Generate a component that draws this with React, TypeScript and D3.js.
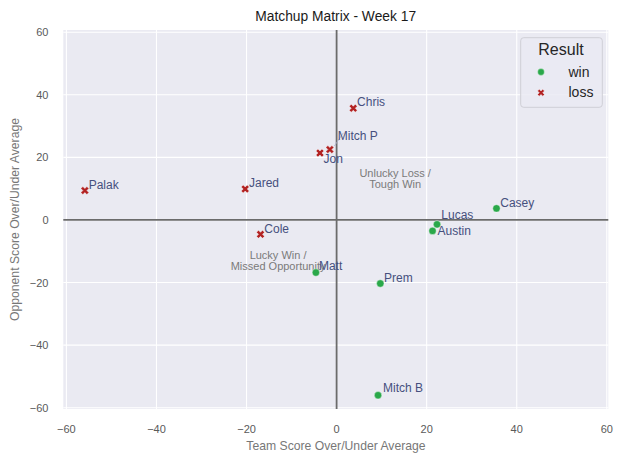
import React from 'react';
import * as d3 from 'd3';

// Week 17 results: points over/under average for each team and its opponent
const players = ['Palak', 'Jared', 'Cole', 'Chris', 'Mitch P', 'Jon', 'Casey', 'Lucas', 'Austin', 'Matt', 'Prem', 'Mitch B'];
const teamDiff = [-55.9, -20.3, -16.9, 3.7, -1.5, -3.7, 35.5, 22.3, 21.3, -4.6, 9.7, 9.2];
const oppDiff = [9.4, 9.9, -4.6, 35.7, 22.5, 21.4, 3.7, -1.4, -3.5, -16.8, -20.3, -56.0];
const results = ['loss', 'loss', 'loss', 'loss', 'loss', 'loss', 'win', 'win', 'win', 'win', 'win', 'win'];

const xTicks = [-60, -40, -20, 0, 20, 40, 60];
const yTicks = [-60, -40, -20, 0, 20, 40, 60];
const resultKeys = ['win', 'loss'];

// label placement after de-overlapping (pixel offset of text start from the point)
const labelOffsets: Record<string, [number, number]> = {
  'Mitch P': [8, -9.7],
  Jon: [3.6, 9.7],
  Lucas: [4.3, -5],
  Austin: [5, 4.3],
  'Mitch B': [5, -3],
  Matt: [3, -2.7],
};

const W = 623;
const H = 464;
const FONT = '"Liberation Sans", Arial, sans-serif';
const colors: Record<string, string> = { win: '#2aa84a', loss: '#b22222' };
const labelColor = '#46507e';

const App = () => {
  const x = d3.scaleLinear().domain([-60.69, 60.33]).range([63.3, 608.3]);
  const y = d3.scaleLinear().domain([60.7, -60.4]).range([30, 409]);
  const [x0, x1] = x.range();
  const [y0, y1] = y.range();

  const cross = d3.symbol().type(d3.symbolCross).size(40)();
  const crossSmall = d3.symbol().type(d3.symbolCross).size(30)();

  const data = players.map((name, i) => ({ name, tx: teamDiff[i], oy: oppDiff[i], res: results[i] }));

  const marker = (res: string, cx: number, cy: number, small = false, key?: string) =>
    res === 'win' ? (
      <circle key={key} cx={cx} cy={cy} r={small ? 3.4 : 3.7} fill={colors.win} stroke="#fff" strokeWidth={0.4} />
    ) : (
      <path key={key} d={small ? crossSmall : cross} transform={`translate(${cx},${cy}) rotate(45)`}
        fill={colors.loss} stroke="#fff" strokeWidth={0.4} />
    );

  const mp = data.find(d => d.name === 'Mitch P')!;
  const mpOff = labelOffsets['Mitch P'];

  return (
    <svg width={W} height={H} style={{ position: 'absolute', left: 0, top: 0, background: '#fff' }} fontFamily={FONT}>
      <text x={335.7} y={20.5} textAnchor="middle" fontSize={13.8} fill="#1a1a1a">Matchup Matrix - Week 17</text>

      <rect x={x0} y={y0} width={x1 - x0} height={y1 - y0} fill="#eaeaf2" />
      {xTicks.map(t => (
        <line key={'gx' + t} x1={x(t)} x2={x(t)} y1={y0} y2={y1} stroke="#fff" strokeWidth={1.1} />
      ))}
      {yTicks.map(t => (
        <line key={'gy' + t} x1={x0} x2={x1} y1={y(t)} y2={y(t)} stroke="#fff" strokeWidth={1.1} />
      ))}

      {/* quadrant dividers */}
      <line x1={x(0)} x2={x(0)} y1={y0} y2={y1} stroke="#6b6b6b" strokeWidth={1.8} />
      <line x1={x0} x2={x1} y1={y(0)} y2={y(0)} stroke="#6b6b6b" strokeWidth={1.8} />

      <text x={x(13)} y={y(13)} textAnchor="middle" fontSize={11} fill="#7a7a7a">
        <tspan x={x(13)} dy={-2}>Unlucky Loss /</tspan>
        <tspan x={x(13)} dy={10.8}>Tough Win</tspan>
      </text>
      <text x={x(-13)} y={y(-13)} textAnchor="middle" fontSize={11} fill="#7a7a7a">
        <tspan x={x(-13)} dy={-2}>Lucky Win /</tspan>
        <tspan x={x(-13)} dy={11.5}>Missed Opportunity</tspan>
      </text>

      {xTicks.map(t => (
        <text key={'tx' + t} x={x(t)} y={433} textAnchor="middle" fontSize={11} fill="#5a5a5a">
          {t < 0 ? '\u2212' + Math.abs(t) : t}
        </text>
      ))}
      {yTicks.map(t => (
        <text key={'ty' + t} x={48.5} y={y(t) + 4} textAnchor="end" fontSize={11} fill="#5a5a5a">
          {t < 0 ? '\u2212' + Math.abs(t) : t}
        </text>
      ))}
      <text x={336} y={450} textAnchor="middle" fontSize={12.2} fill="#777">Team Score Over/Under Average</text>
      <text transform={`translate(18.5,${(y0 + y1) / 2}) rotate(-90)`} textAnchor="middle" fontSize={12.2} fill="#777">
        Opponent Score Over/Under Average
      </text>

      {/* connector for the displaced label */}
      <line x1={x(mp.tx) + 4.5} y1={y(mp.oy) - 3.5} x2={x(mp.tx) + mpOff[0] + 5.5} y2={y(mp.oy) + mpOff[1] - 7}
        stroke="#a8b0cc" strokeWidth={0.8} />

      {data.map(d => marker(d.res, x(d.tx), y(d.oy), false, 'm' + d.name))}
      {data.map(d => {
        const off = labelOffsets[d.name] ?? [3.8, -1.8];
        return (
          <text key={'l' + d.name} x={x(d.tx) + off[0]} y={y(d.oy) + off[1]} fontSize={12} fill={labelColor}>
            {d.name}
          </text>
        );
      })}

      {/* legend */}
      <rect x={520.7} y={37.7} width={81.6} height={69.6} rx={3} fill="#eaeaf2" fillOpacity={0.8} stroke="#cfcfd6" strokeWidth={1} />
      <text x={561} y={55} textAnchor="middle" fontSize={16} fill="#262626">Result</text>
      {resultKeys.map((k, i) => (
        <g key={'lg' + k}>
          {marker(k, 541, 72 + i * 20.7, true)}
          <text x={568.5} y={76.7 + i * 20} fontSize={14} fill="#262626">{k}</text>
        </g>
      ))}
    </svg>
  );
};

export default App;
